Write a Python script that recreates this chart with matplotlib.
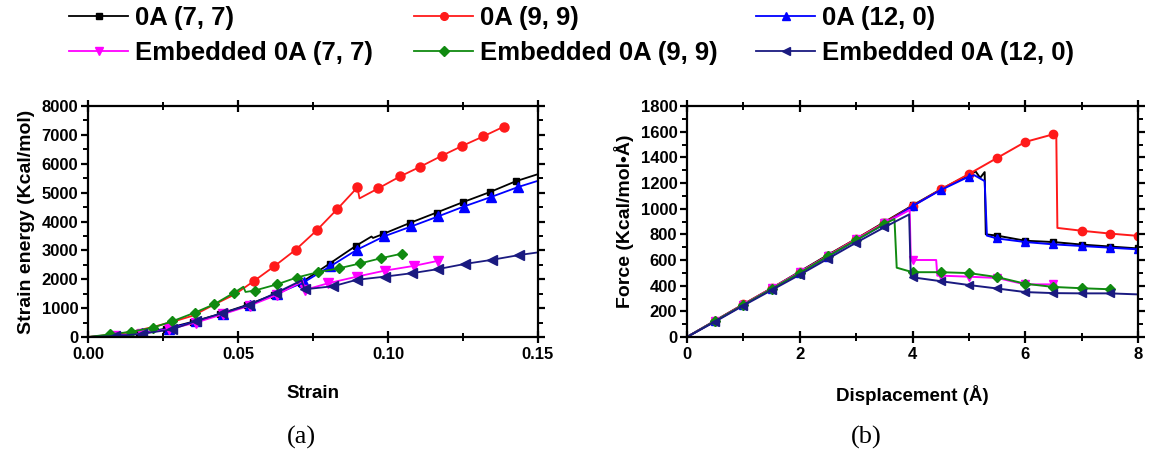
"""Strain energy vs strain and force vs displacement for 0A and embedded 0A tubes."""

import matplotlib
matplotlib.use("Agg")
import matplotlib.pyplot as plt
from matplotlib.ticker import MultipleLocator

plt.rcParams['font.family'] = ['Liberation Sans', 'DejaVu Sans']
plt.rcParams['font.weight'] = 'bold'

# ---- panel (a): strain energy (Kcal/mol) vs strain ----
a_77_x = [0, 0.0085, 0.017, 0.026, 0.035, 0.044, 0.053, 0.062, 0.071, 0.0805,
          0.0892, 0.0945, 0.0950, 0.0982, 0.1073, 0.1162, 0.1250, 0.1340, 0.1425, 0.15]
a_77_y = [0, 40, 130, 290, 530, 800, 1110, 1470, 1880, 2540,
          3150, 3480, 3430, 3560, 3950, 4310, 4670, 5020, 5390, 5640]
a_77_mk = [1, 2, 3, 4, 5, 6, 7, 8, 9, 10, 13, 14, 15, 16, 17, 18]

a_99_x = [0, 0.007, 0.014, 0.021, 0.028, 0.035, 0.042, 0.049, 0.0552, 0.0621,
          0.0692, 0.0762, 0.0830, 0.0898, 0.0905, 0.0968, 0.1040, 0.1108, 0.1180,
          0.1248, 0.1318, 0.1387]
a_99_y = [0, 70, 170, 330, 520, 740, 1120, 1480, 1930, 2450,
          3020, 3690, 4420, 5180, 4800, 5150, 5560, 5900, 6280,
          6620, 6950, 7290]
a_99_mk = [8, 9, 10, 11, 12, 13, 15, 16, 17, 18, 19, 20, 21]

a_120_x = [0, 0.009, 0.018, 0.027, 0.036, 0.045, 0.054, 0.063, 0.072, 0.0808,
           0.0898, 0.0988, 0.1078, 0.1168, 0.1252, 0.1344, 0.1434, 0.15]
a_120_y = [0, 40, 130, 290, 540, 810, 1120, 1500, 1900, 2450,
           3030, 3490, 3830, 4180, 4515, 4850, 5195, 5410]
a_120_mk = [1, 2, 3, 4, 5, 6, 7, 8, 9, 10, 11, 12, 13, 14, 15, 16]

a_e77_x = [0, 0.009, 0.018, 0.027, 0.036, 0.045, 0.054, 0.063, 0.0716, 0.0722,
           0.0800, 0.0896, 0.0990, 0.1085, 0.1168]
a_e77_y = [0, 30, 120, 270, 500, 790, 1090, 1460, 1940, 1630,
           1860, 2090, 2300, 2460, 2640]
a_e77_mk = [1, 2, 3, 4, 5, 6, 7, 9, 10, 11, 12, 13, 14]

a_e99_x = [0, 0.0072, 0.0143, 0.0215, 0.028, 0.0355, 0.042, 0.0488, 0.0518, 0.0525,
           0.0556, 0.0629, 0.0696, 0.0768, 0.0837, 0.0908, 0.0977, 0.1048]
a_e99_y = [0, 90, 180, 320, 540, 840, 1130, 1540, 1740, 1560,
           1610, 1820, 2060, 2250, 2380, 2550, 2730, 2890]
a_e99_mk = [1, 2, 3, 4, 5, 6, 7, 10, 11, 12, 13, 14, 15, 16, 17]

a_e120_x = [0, 0.009, 0.018, 0.028, 0.036, 0.0446, 0.0536, 0.0625, 0.0712, 0.0722,
            0.0818, 0.0895, 0.0989, 0.1080, 0.1166, 0.1256, 0.1345, 0.1438, 0.15]
a_e120_y = [0, 30, 110, 265, 550, 820, 1100, 1520, 1960, 1650,
            1760, 1980, 2090, 2210, 2350, 2530, 2670, 2840, 2930]
a_e120_mk = [1, 2, 3, 4, 5, 6, 7, 9, 10, 11, 12, 13, 14, 15, 16, 17]

# ---- panel (b): force (Kcal/mol*A) vs displacement (A) ----
b_77_x = [0, 0.5, 1, 1.5, 2, 2.5, 3, 3.5, 4, 4.5, 5, 5.12, 5.2, 5.28, 5.3,
          5.5, 6, 6.5, 7, 7.5, 8]
b_77_y = [0, 128, 255, 380, 510, 640, 765, 895, 1025, 1150, 1265, 1290, 1240, 1285, 800,
          790, 750, 740, 720, 705, 690]
b_77_mk = [1, 2, 3, 4, 5, 6, 7, 8, 9, 10, 15, 16, 17, 18, 19, 20]

b_99_x = [0, 0.5, 1, 1.5, 2, 2.5, 3, 3.5, 4, 4.5, 5, 5.5, 6, 6.5, 6.55, 6.57,
          7, 7.5, 8]
b_99_y = [0, 127, 255, 380, 505, 635, 765, 890, 1020, 1150, 1270, 1395, 1520, 1580, 1592, 850,
          828, 806, 788]
b_99_mk = [1, 2, 3, 4, 5, 6, 7, 8, 9, 10, 11, 12, 13, 16, 17, 18]

b_120_x = [0, 0.5, 1, 1.5, 2, 2.5, 3, 3.5, 4, 4.5, 5, 5.1, 5.28, 5.32,
           5.5, 6, 6.5, 7, 7.5, 8]
b_120_y = [0, 125, 250, 375, 500, 625, 755, 880, 1020, 1145, 1250, 1260, 1215, 790,
           768, 740, 722, 709, 696, 683]
b_120_mk = [1, 2, 3, 4, 5, 6, 7, 8, 9, 10, 14, 15, 16, 17, 18, 19]

b_e77_x = [0, 0.5, 1, 1.5, 2, 2.5, 3, 3.5, 3.95, 3.97, 4, 4.42, 4.44,
           4.5, 5, 5.5, 6, 6.5, 6.55]
b_e77_y = [0, 125, 250, 378, 505, 632, 760, 885, 990, 600, 600, 600, 478,
           478, 470, 460, 410, 410, 410]
b_e77_mk = [1, 2, 3, 4, 5, 6, 7, 10, 13, 14, 15, 16, 17]

b_e99_x = [0, 0.5, 1, 1.5, 2, 2.5, 3, 3.5, 3.68, 3.72,
           4, 4.5, 5, 5.5, 6, 6.5, 7, 7.5]
b_e99_y = [0, 125, 250, 375, 500, 630, 755, 880, 920, 540,
           505, 505, 498, 467, 415, 390, 380, 372]
b_e99_mk = [1, 2, 3, 4, 5, 6, 7, 10, 11, 12, 13, 14, 15, 16, 17]

b_e120_x = [0, 0.5, 1, 1.5, 2, 2.5, 3, 3.5, 3.94, 3.97,
            4, 4.5, 5, 5.5, 6, 6.5, 7, 7.5, 8]
b_e120_y = [0, 120, 245, 365, 485, 610, 735, 855, 955, 475,
            465, 435, 405, 378, 350, 342, 340, 340, 332]
b_e120_mk = [1, 2, 3, 4, 5, 6, 7, 10, 11, 12, 13, 14, 15, 16, 17]

labels = ['0A (7, 7)', '0A (9, 9)', '0A (12, 0)',
          'Embedded 0A (7, 7)', 'Embedded 0A (9, 9)', 'Embedded 0A (12, 0)']
colors = ['#000000', '#ff1a1a', '#0000ff', '#ff00ff', '#108a10', '#1a1a80']
markers = ['s', 'o', '^', 'v', 'D', '<']
msizes = [5, 6.5, 6.5, 6.5, 5.5, 6.5]

fig = plt.figure(figsize=(11.5, 4.54), dpi=100)
ax1 = fig.add_axes([88 / 1150, 1 - 337 / 454, 450 / 1150, 231 / 454])
ax2 = fig.add_axes([687 / 1150, 1 - 337 / 454, 451 / 1150, 231 / 454])

series_a = [(a_77_x, a_77_y, a_77_mk), (a_99_x, a_99_y, a_99_mk),
            (a_120_x, a_120_y, a_120_mk), (a_e77_x, a_e77_y, a_e77_mk),
            (a_e99_x, a_e99_y, a_e99_mk), (a_e120_x, a_e120_y, a_e120_mk)]
series_b = [(b_77_x, b_77_y, b_77_mk), (b_99_x, b_99_y, b_99_mk),
            (b_120_x, b_120_y, b_120_mk), (b_e77_x, b_e77_y, b_e77_mk),
            (b_e99_x, b_e99_y, b_e99_mk), (b_e120_x, b_e120_y, b_e120_mk)]

handles = []
for i, (x, y, mk) in enumerate(series_a):
    h, = ax1.plot(x, y, color=colors[i], marker=markers[i], markersize=msizes[i],
                  markevery=mk, linewidth=1.3, label=labels[i])
    handles.append(h)
for i, (x, y, mk) in enumerate(series_b):
    ax2.plot(x, y, color=colors[i], marker=markers[i], markersize=msizes[i] - 0.5,
             markevery=mk, linewidth=1.4)

ax1.set_xlim(0, 0.15)
ax1.set_ylim(0, 8000)
ax1.xaxis.set_major_locator(MultipleLocator(0.05))
ax1.xaxis.set_minor_locator(MultipleLocator(0.025))
ax1.yaxis.set_major_locator(MultipleLocator(1000))
ax1.yaxis.set_minor_locator(MultipleLocator(500))
ax1.set_xticks([0, 0.05, 0.10, 0.15])
ax1.set_xticklabels(['0.00', '0.05', '0.10', '0.15'])
ax1.set_xlabel('Strain', fontsize=13.5, fontweight='bold', labelpad=16)
ax1.set_ylabel('Strain energy (Kcal/mol)', fontsize=14, fontweight='bold', labelpad=5)

ax2.set_xlim(0, 8)
ax2.set_ylim(0, 1800)
ax2.xaxis.set_major_locator(MultipleLocator(2))
ax2.xaxis.set_minor_locator(MultipleLocator(1))
ax2.yaxis.set_major_locator(MultipleLocator(200))
ax2.yaxis.set_minor_locator(MultipleLocator(100))
ax2.set_xlabel('Displacement (\u00c5)', fontsize=13.5, fontweight='bold', labelpad=16)
ax2.set_ylabel('Force (Kcal/mol\u2022\u00c5)', fontsize=14, fontweight='bold', labelpad=5)

for ax in (ax1, ax2):
    for s in ax.spines.values():
        s.set_linewidth(1.6)
    ax.tick_params(axis='x', which='major', direction='inout', length=9, width=1.6,
                   top=True, labelsize=12, pad=3)
    ax.tick_params(axis='x', which='minor', direction='inout', length=6, width=1.4,
                   top=True)
    ax.tick_params(axis='y', which='major', direction='out', length=5, width=1.6,
                   right=True, labelsize=12, pad=2)
    ax.tick_params(axis='y', which='minor', direction='out', length=3.5, width=1.4,
                   right=True)
    for lbl in ax.get_xticklabels() + ax.get_yticklabels():
        lbl.set_fontweight('bold')

# legend: three columns of two rows each
col_x = [68 / 1150, 413 / 1150, 755 / 1150]
for c in range(3):
    fig.legend([handles[c], handles[c + 3]], [labels[c], labels[c + 3]],
               loc='upper left', bbox_to_anchor=(col_x[c], 1 - 5 / 454), frameon=False,
               borderaxespad=0.0, borderpad=0.05, numpoints=1, handlelength=2.3,
               handletextpad=0.25, labelspacing=0.42, markerscale=0.85,
               prop={'family': 'Liberation Sans', 'weight': 'bold', 'size': 18.5})

fig.text(301 / 1150, 1 - 437 / 454, '(a)', ha='center', va='center',
         fontsize=19, family='Liberation Serif', fontweight='normal')
fig.text(866 / 1150, 1 - 437 / 454, '(b)', ha='center', va='center',
         fontsize=19, family='Liberation Serif', fontweight='normal')

fig.savefig('out.png', dpi=100)
